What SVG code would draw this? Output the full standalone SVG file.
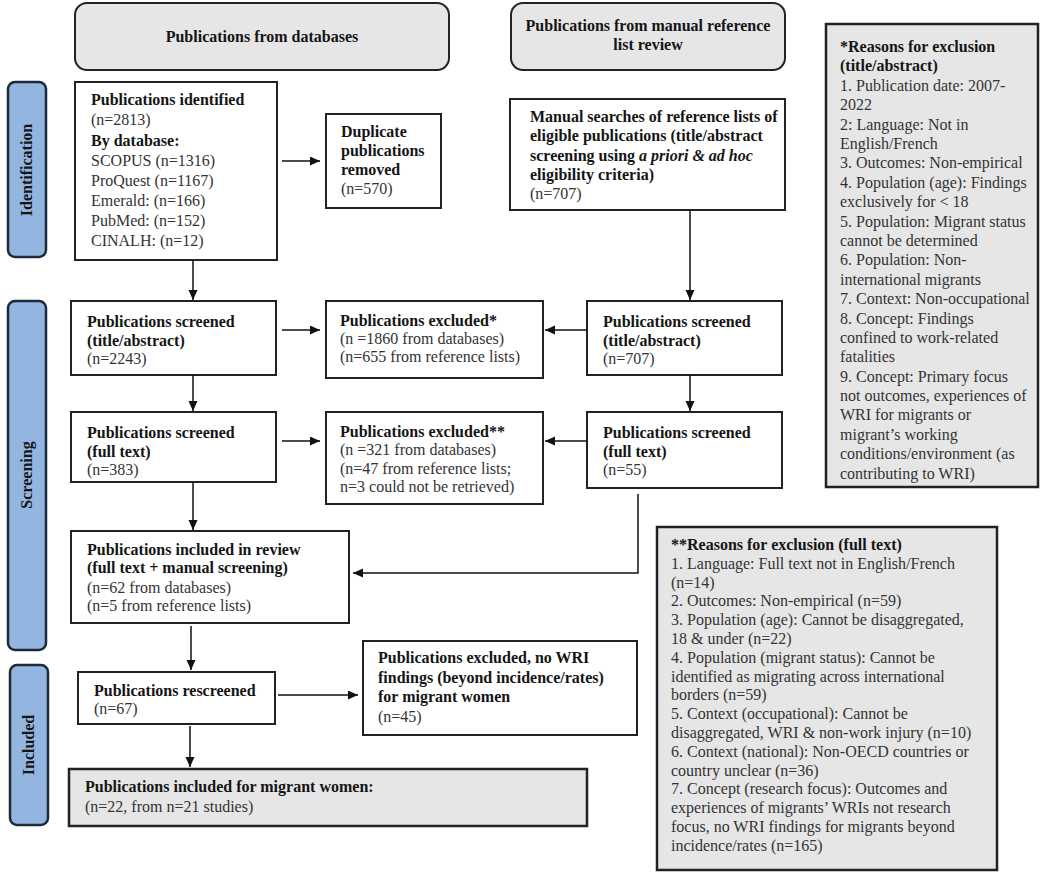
<svg xmlns="http://www.w3.org/2000/svg" width="1053" height="874" viewBox="0 0 1053 874">
<style>
text{font-family:"Liberation Serif","Times New Roman",serif;font-size:16px;fill:#333}
.b{font-weight:bold;fill:#151515}
.c{text-anchor:middle}
.box{fill:#fff;stroke:#222;stroke-width:2}
.gbox{fill:#e6e6e6;stroke:#222;stroke-width:2.5}
.hdr{fill:#e6e6e6;stroke:#222;stroke-width:2}
.bar{fill:#93b6e0;stroke:#1e2a38;stroke-width:2.5}
.con{fill:none;stroke:#111;stroke-width:1.5;marker-end:url(#ah)}
</style>
<defs>
<marker id="ah" markerUnits="userSpaceOnUse" markerWidth="11" markerHeight="10" refX="10" refY="4.5" orient="auto">
<path d="M0,0 L10,4.5 L0,9 z" fill="#111"/>
</marker>
</defs>
<rect width="1053" height="874" fill="#fff"/>

<g id="hdr-db">
<rect class="hdr" x="75" y="3" width="374" height="67" rx="12"/>
<text class="b c" x="262" y="42">Publications from databases</text>
</g>
<g id="hdr-manual">
<rect class="hdr" x="511" y="3" width="274" height="67" rx="12"/>
<text class="b c" x="648" y="31">Publications from manual reference</text>
<text class="b c" x="648" y="50">list review</text>
</g>

<g id="bar-identification">
<rect class="bar" x="8" y="82" width="38" height="175" rx="7"/>
<text class="b c" transform="translate(32,170) rotate(-90)">Identification</text>
</g>
<g id="bar-screening">
<rect class="bar" x="8" y="301" width="38" height="349" rx="7"/>
<text class="b c" transform="translate(32,475) rotate(-90)">Screening</text>
</g>
<g id="bar-included">
<rect class="bar" x="10" y="665" width="38" height="160" rx="7"/>
<text class="b c" transform="translate(34,745) rotate(-90)">Included</text>
</g>

<g id="identified">
<rect class="box" x="75" y="82" width="202" height="178"/>
<text class="b" x="91" y="105">Publications identified</text>
<text x="91" y="125">(n=2813)</text>
<text class="b" x="91" y="146">By database:</text>
<text x="91" y="166">SCOPUS (n=1316)</text>
<text x="91" y="186">ProQuest (n=1167)</text>
<text x="91" y="206">Emerald: (n=166)</text>
<text x="91" y="226">PubMed: (n=152)</text>
<text x="91" y="246">CINALH: (n=12)</text>
</g>

<g id="duplicates">
<rect class="box" x="326" y="114" width="115" height="94"/>
<text class="b" x="341" y="137">Duplicate</text>
<text class="b" x="341" y="156">publications</text>
<text class="b" x="341" y="175">removed</text>
<text x="341" y="194">(n=570)</text>
</g>

<g id="manual-search">
<rect class="box" x="510" y="99" width="275" height="111"/>
<text class="b" x="530" y="122">Manual searches of reference lists of</text>
<text class="b" x="530" y="141">eligible publications (title/abstract</text>
<text class="b" x="530" y="161">screening using <tspan font-style="italic">a priori &amp; ad hoc</tspan></text>
<text class="b" x="530" y="180">eligibility criteria)</text>
<text x="530" y="199">(n=707)</text>
</g>

<g id="reasons-ta">
<rect class="gbox" x="826" y="24" width="212" height="463"/>
<text class="b" x="840" y="52">*Reasons for exclusion</text>
<text class="b" x="840" y="71">(title/abstract)</text>
<text x="840" y="91">1. Publication date: 2007-</text>
<text x="840" y="110">2022</text>
<text x="840" y="130">2: Language: Not in</text>
<text x="840" y="149">English/French</text>
<text x="840" y="168">3. Outcomes: Non-empirical</text>
<text x="840" y="188">4. Population (age): Findings</text>
<text x="840" y="207">exclusively for &lt; 18</text>
<text x="840" y="227">5. Population: Migrant status</text>
<text x="840" y="246">cannot be determined</text>
<text x="840" y="265">6. Population: Non-</text>
<text x="840" y="285">international migrants</text>
<text x="840" y="304">7. Context: Non-occupational</text>
<text x="840" y="324">8. Concept: Findings</text>
<text x="840" y="343">confined to work-related</text>
<text x="840" y="362">fatalities</text>
<text x="840" y="382">9. Concept: Primary focus</text>
<text x="840" y="401">not outcomes, experiences of</text>
<text x="840" y="420">WRI for migrants or</text>
<text x="840" y="440">migrant’s working</text>
<text x="840" y="459">conditions/environment (as</text>
<text x="840" y="479">contributing to WRI)</text>
</g>

<g id="screened-ta-db">
<rect class="box" x="71" y="301" width="205" height="74"/>
<text class="b" x="87" y="327">Publications screened</text>
<text class="b" x="87" y="346">(title/abstract)</text>
<text x="87" y="364">(n=2243)</text>
</g>
<g id="excluded-ta">
<rect class="box" x="326" y="301" width="217" height="77"/>
<text class="b" x="340" y="326">Publications excluded*</text>
<text x="340" y="344">(n =1860 from databases)</text>
<text x="340" y="362">(n=655 from reference lists)</text>
</g>
<g id="screened-ta-ref">
<rect class="box" x="587" y="301" width="195" height="74"/>
<text class="b" x="603" y="327">Publications screened</text>
<text class="b" x="603" y="346">(title/abstract)</text>
<text x="603" y="364">(n=707)</text>
</g>

<g id="screened-ft-db">
<rect class="box" x="71" y="412" width="205" height="70"/>
<text class="b" x="87" y="438">Publications screened</text>
<text class="b" x="87" y="457">(full text)</text>
<text x="87" y="475">(n=383)</text>
</g>
<g id="excluded-ft">
<rect class="box" x="326" y="412" width="217" height="92"/>
<text class="b" x="340" y="437">Publications excluded**</text>
<text x="340" y="455">(n =321 from databases)</text>
<text x="340" y="474">(n=47 from reference lists;</text>
<text x="340" y="492">n=3 could not be retrieved)</text>
</g>
<g id="screened-ft-ref">
<rect class="box" x="587" y="412" width="195" height="76"/>
<text class="b" x="603" y="438">Publications screened</text>
<text class="b" x="603" y="457">(full text)</text>
<text x="603" y="475">(n=55)</text>
</g>

<g id="included-review">
<rect class="box" x="71" y="531" width="278" height="92"/>
<text class="b" x="87" y="555">Publications included in review</text>
<text class="b" x="87" y="573">(full text + manual screening)</text>
<text x="87" y="593">(n=62 from databases)</text>
<text x="87" y="611">(n=5 from reference lists)</text>
</g>

<g id="reasons-ft">
<rect class="gbox" x="657" y="527" width="340" height="343"/>
<text class="b" x="671" y="550">**Reasons for exclusion (full text)</text>
<text x="671" y="569">1. Language: Full text not in English/French</text>
<text x="671" y="588">(n=14)</text>
<text x="671" y="606">2. Outcomes: Non-empirical (n=59)</text>
<text x="671" y="625">3. Population (age): Cannot be disaggregated,</text>
<text x="671" y="644">18 &amp; under (n=22)</text>
<text x="671" y="663">4. Population (migrant status): Cannot be</text>
<text x="671" y="682">identified as migrating across international</text>
<text x="671" y="700">borders (n=59)</text>
<text x="671" y="719">5. Context (occupational): Cannot be</text>
<text x="671" y="738">disaggregated, WRI &amp; non-work injury (n=10)</text>
<text x="671" y="757">6. Context (national): Non-OECD countries or</text>
<text x="671" y="776">country unclear (n=36)</text>
<text x="671" y="794">7. Concept (research focus): Outcomes and</text>
<text x="671" y="813">experiences of migrants’ WRIs not research</text>
<text x="671" y="832">focus, no WRI findings for migrants beyond</text>
<text x="671" y="851">incidence/rates (n=165)</text>
</g>

<g id="rescreened">
<rect class="box" x="78" y="672" width="197" height="52"/>
<text class="b" x="94" y="696">Publications rescreened</text>
<text x="94" y="714">(n=67)</text>
</g>

<g id="excluded-wri">
<rect class="box" x="363" y="641" width="274" height="94"/>
<text class="b" x="378" y="663">Publications excluded, no WRI</text>
<text class="b" x="378" y="683">findings (beyond incidence/rates)</text>
<text class="b" x="378" y="702">for migrant women</text>
<text x="378" y="722">(n=45)</text>
</g>

<g id="included-women">
<rect class="gbox" x="69" y="769" width="518" height="57"/>
<text class="b" x="85" y="792">Publications included for migrant women:</text>
<text x="85" y="812">(n=22, from n=21 studies)</text>
</g>

<g id="connectors">
<line class="con" x1="282" y1="161" x2="320" y2="161"/>
<line class="con" x1="193" y1="260" x2="193" y2="300"/>
<line class="con" x1="193" y1="375" x2="193" y2="411"/>
<line class="con" x1="193" y1="482" x2="193" y2="530"/>
<line class="con" x1="282" y1="330" x2="320" y2="330"/>
<line class="con" x1="587" y1="330" x2="545" y2="330"/>
<line class="con" x1="282" y1="441" x2="320" y2="441"/>
<line class="con" x1="587" y1="441" x2="545" y2="441"/>
<line class="con" x1="690" y1="211" x2="690" y2="300"/>
<line class="con" x1="690" y1="375" x2="690" y2="411"/>
<polyline class="con" points="638,494 638,573 353,573"/>
<line class="con" x1="191" y1="626" x2="191" y2="670"/>
<line class="con" x1="278" y1="695" x2="358" y2="695"/>
<line class="con" x1="190" y1="726" x2="190" y2="767"/>
</g>
</svg>
